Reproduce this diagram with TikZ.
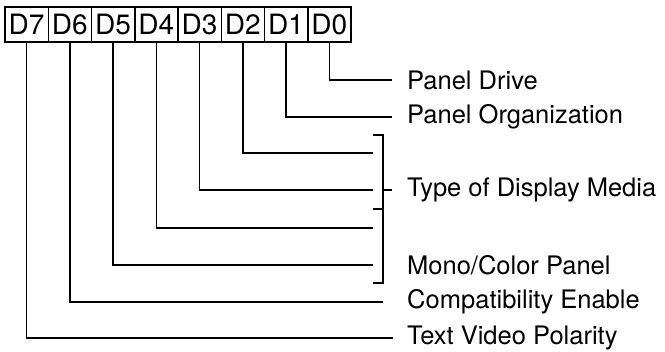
\documentclass[tikz,border=0pt]{standalone}
\usepackage{fontspec}
\setmainfont{TeX Gyre Heros}
\usetikzlibrary{positioning}

\begin{document}
\begin{tikzpicture}[
    x=1pt, y=-1pt,
    node distance=0pt,
    bitbox/.style={draw, line width=1.5pt, outer sep=0pt, inner sep=0pt,
        minimum width=43.25pt, minimum height=35pt, font=\fontsize{28}{28}\selectfont},
    lbl/.style={anchor=west, inner sep=0pt, font=\fontsize{25.5}{25.5}\selectfont},
    line/.style={line width=1.6pt}
]
\useasboundingbox (0,0) rectangle (665,352);
% register bits
\node[bitbox, anchor=north west] (d7) at (5,7) {D7};
\node[bitbox, right=of d7] (d6) {D6};
\node[bitbox, right=of d6] (d5) {D5};
\node[bitbox, right=of d5] (d4) {D4};
\node[bitbox, right=of d4] (d3) {D3};
\node[bitbox, right=of d3] (d2) {D2};
\node[bitbox, right=of d2] (d1) {D1};
\node[bitbox, right=of d1] (d0) {D0};
% field names
\node[lbl] (drive) at (407,80) {Panel Drive};
\node[lbl] (org) at (407,117) {Panel Organization};
\node[lbl] (media) at (407,190) {Type of Display Media};
\node[lbl] (mono) at (407,265) {Mono/Color Panel};
\node[lbl] (compat) at (407,302) {Compatibility Enable};
\node[lbl] (polar) at (407,338) {Text Video Polarity};
% ends at the bracket
\coordinate (e2) at (373,153);
\coordinate (e3) at (373,190);
\coordinate (e4) at (373,228);
\coordinate (e5) at (373,265);
\draw[line] (d0.south) |- ([xshift=-15pt]drive.west);
\draw[line] (d1.south) |- ([xshift=-15pt]org.west);
\draw[line] (d2.south) |- (e2);
\draw[line] (d3.south) |- (e3);
\draw[line] (d4.south) |- (e4);
\draw[line] (d5.south) |- (e5);
\draw[line] (d6.south) |- ([xshift=-24pt]compat.west);
\draw[line] (d7.south) |- ([xshift=-14pt]polar.west);
% bracket
\draw[line] (373,135) -- (383,135) -- (383,283) -- (373,283);
\draw[line] (373,209) -- (383,209);
\draw[line] (383,190) -- ([xshift=-15pt]media.west);
\end{tikzpicture}
\end{document}
